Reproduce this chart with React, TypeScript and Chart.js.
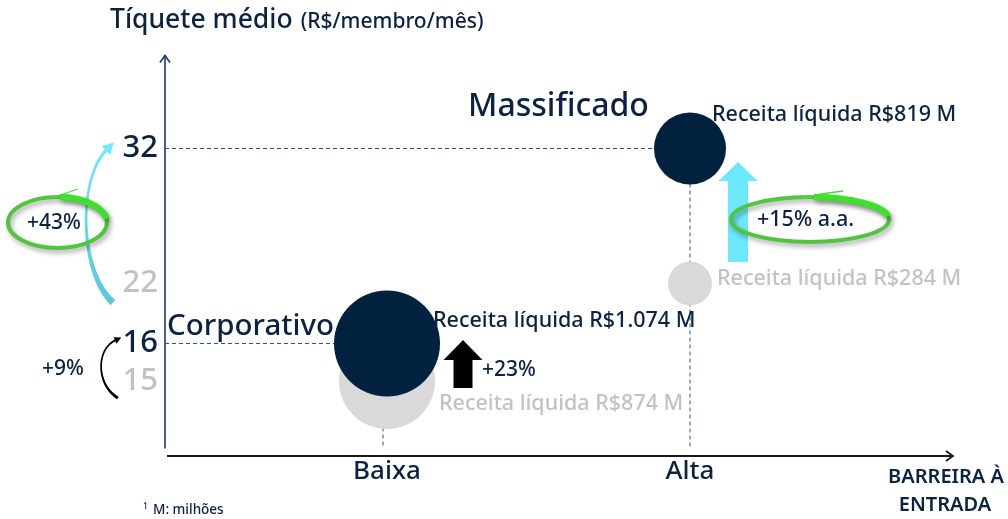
import React, { useEffect, useRef } from 'react';
import { Chart, registerables } from 'chart.js';

Chart.register(...registerables);

// ---------- data ----------
const segments = ['Corporativo', 'Massificado'];
const barrierLevels = ['Baixa', 'Alta'];
const segmentBarrier = ['Baixa', 'Alta'];
const ticketBefore = [15, 22];
const ticketNow = [16, 32];
const revenueBefore = [874, 284];
const revenueNow = [1074, 819];
const revenueGrowth = ['+23%', '+15% a.a.'];
const ticketGrowth = ['+9%', '+43%'];
const bubbleRadiusNow = [53, 36];
const bubbleRadiusBefore = [48, 22];
const yTickValues = [32, 22, 16, 15];
// axis slot layout (hand-drawn, non-linear axis): slots above 32, between ticks, below 15
const yTickGaps = [12, 18, 8, 5, 9];

const NAVY = '#0c2241';
const BUBBLE_NAVY = '#02213f';
const GREY_BUBBLE = '#d9d9d9';
const GREY_TEXT = '#c2c2c2';
const FONT = '"Noto Sans", sans-serif';
const W = '500';

const yLabels: string[] = (() => {
  const total = yTickGaps.reduce((s, g) => s + g, 0) + 1;
  const arr: string[] = new Array(total).fill('');
  let idx = 0;
  yTickValues.forEach((v, i) => {
    idx += yTickGaps[i];
    arr[idx] = String(v);
  });
  return arr;
})();

const fmtThousands = (v: number) => String(v).replace(/\B(?=(\d{3})+(?!\d))/g, '.');
const revenueLabel = (v: number) => `Receita líquida R$${fmtThousands(v)} M`;
const xValueOf = (i: number) => barrierLevels.indexOf(segmentBarrier[i]) + 1;

function txt(ctx: CanvasRenderingContext2D, s: string, x: number, y: number, size: number, color: string, align: CanvasTextAlign = 'left', weight = W) {
  ctx.font = `${weight} ${size}px ${FONT}`;
  ctx.fillStyle = color;
  ctx.textAlign = align;
  ctx.textBaseline = 'alphabetic';
  ctx.fillText(s, x, y);
}

type P = [number, number];
function taperedArrow(ctx: CanvasRenderingContext2D, p0: P, c1: P, c2: P, p1: P, w0: number, wm: number, w1: number, headLen: number, headW: number, fill: string | CanvasGradient) {
  const bez = (t: number) => {
    const m = 1 - t;
    return [
      m * m * m * p0[0] + 3 * m * m * t * c1[0] + 3 * m * t * t * c2[0] + t * t * t * p1[0],
      m * m * m * p0[1] + 3 * m * m * t * c1[1] + 3 * m * t * t * c2[1] + t * t * t * p1[1],
    ];
  };
  const der = (t: number) => {
    const m = 1 - t;
    return [
      3 * m * m * (c1[0] - p0[0]) + 6 * m * t * (c2[0] - c1[0]) + 3 * t * t * (p1[0] - c2[0]),
      3 * m * m * (c1[1] - p0[1]) + 6 * m * t * (c2[1] - c1[1]) + 3 * t * t * (p1[1] - c2[1]),
    ];
  };
  const N = 48;
  const L: number[][] = [];
  const R: number[][] = [];
  for (let i = 0; i <= N; i++) {
    const t = i / N;
    const p = bez(t);
    const d = der(t);
    const len = Math.hypot(d[0], d[1]) || 1;
    const nx = -d[1] / len;
    const ny = d[0] / len;
    const w = (1 - t) * (1 - t) * w0 + 2 * t * (1 - t) * wm + t * t * w1;
    L.push([p[0] + nx * w / 2, p[1] + ny * w / 2]);
    R.push([p[0] - nx * w / 2, p[1] - ny * w / 2]);
  }
  ctx.fillStyle = fill;
  ctx.beginPath();
  ctx.moveTo(L[0][0], L[0][1]);
  L.forEach((q) => ctx.lineTo(q[0], q[1]));
  for (let i = R.length - 1; i >= 0; i--) ctx.lineTo(R[i][0], R[i][1]);
  ctx.closePath();
  ctx.fill();
  const d = der(1);
  const len = Math.hypot(d[0], d[1]) || 1;
  const ux = d[0] / len;
  const uy = d[1] / len;
  ctx.beginPath();
  ctx.moveTo(p1[0] + ux * headLen, p1[1] + uy * headLen);
  ctx.lineTo(p1[0] - uy * headW / 2, p1[1] + ux * headW / 2);
  ctx.lineTo(p1[0] + uy * headW / 2, p1[1] - ux * headW / 2);
  ctx.closePath();
  ctx.fill();
}

function blockArrow(ctx: CanvasRenderingContext2D, cx: number, tipY: number, headBaseY: number, bottomY: number, headW: number, shaftW: number, color: string) {
  ctx.fillStyle = color;
  ctx.beginPath();
  ctx.moveTo(cx, tipY);
  ctx.lineTo(cx + headW / 2, headBaseY);
  ctx.lineTo(cx + shaftW / 2, headBaseY);
  ctx.lineTo(cx + shaftW / 2, bottomY);
  ctx.lineTo(cx - shaftW / 2, bottomY);
  ctx.lineTo(cx - shaftW / 2, headBaseY);
  ctx.lineTo(cx - headW / 2, headBaseY);
  ctx.closePath();
  ctx.fill();
}

function scribbleEllipse(ctx: CanvasRenderingContext2D, cx: number, cy: number, rx: number, ry: number, tailX: number, tailY: number) {
  ctx.save();
  ctx.shadowColor = 'rgba(0,0,0,0.35)';
  ctx.shadowBlur = 5;
  ctx.shadowOffsetX = 2;
  ctx.shadowOffsetY = 3;
  ctx.strokeStyle = '#52c43e';
  ctx.lineWidth = 4;
  ctx.beginPath();
  ctx.ellipse(cx, cy, rx, ry, 0, 0, Math.PI * 2);
  ctx.stroke();
  ctx.strokeStyle = '#3fe02c';
  ctx.lineWidth = 6.5;
  ctx.beginPath();
  ctx.ellipse(cx, cy, rx, ry, 0, -Math.PI / 2 + 0.05, -0.15);
  ctx.stroke();
  ctx.restore();
  ctx.save();
  ctx.strokeStyle = '#4fd83a';
  ctx.lineWidth = 1.3;
  ctx.beginPath();
  ctx.moveTo(cx - rx * 0.1, cy - ry + 1);
  ctx.quadraticCurveTo(cx + (tailX - cx) * 0.4, cy - ry - 4, tailX, tailY);
  ctx.stroke();
  ctx.restore();
}

const overlay = {
  id: 'overlay',
  beforeDatasetsDraw(chart: any) {
    const { ctx, chartArea: a, scales } = chart;
    const x = scales.x;
    const y = scales.y;
    const py = (v: number) => y.getPixelForValue(yLabels.indexOf(String(v)));
    ctx.save();
    // y axis with arrow
    ctx.strokeStyle = '#1d3873';
    ctx.lineWidth = 1.6;
    ctx.beginPath();
    ctx.moveTo(a.left, a.bottom);
    ctx.lineTo(a.left, a.top - 3);
    ctx.stroke();
    ctx.beginPath();
    ctx.moveTo(a.left - 5, a.top + 4);
    ctx.lineTo(a.left, a.top - 3);
    ctx.lineTo(a.left + 5, a.top + 4);
    ctx.stroke();
    // x axis with arrow
    const xAxisY = a.bottom + 7.5;
    ctx.strokeStyle = '#1a1a1a';
    ctx.lineWidth = 1.8;
    ctx.beginPath();
    ctx.moveTo(a.left + 2, xAxisY);
    ctx.lineTo(a.right, xAxisY);
    ctx.stroke();
    ctx.beginPath();
    ctx.moveTo(a.right - 7, xAxisY - 5);
    ctx.lineTo(a.right, xAxisY);
    ctx.lineTo(a.right - 7, xAxisY + 5);
    ctx.stroke();
    // dashed guides
    ctx.strokeStyle = '#35507f';
    ctx.lineWidth = 1;
    ctx.setLineDash([4, 3]);
    segments.forEach((_, i) => {
      const px = x.getPixelForValue(xValueOf(i));
      const yn = py(ticketNow[i]);
      ctx.beginPath();
      ctx.moveTo(a.left, yn);
      ctx.lineTo(px, yn);
      ctx.stroke();
      ctx.beginPath();
      ctx.moveTo(px - (i === 0 ? 4 : 0), yn);
      ctx.lineTo(px - (i === 0 ? 4 : 0), a.bottom);
      ctx.stroke();
    });
    ctx.restore();
  },
  afterDatasetsDraw(chart: any) {
    const { ctx, chartArea: a, scales } = chart;
    const x = scales.x;
    const y = scales.y;
    const py = (v: number) => y.getPixelForValue(yLabels.indexOf(String(v)));
    const xB = x.getPixelForValue(xValueOf(0));
    const xA = x.getPixelForValue(xValueOf(1));
    const yN0 = py(ticketNow[0]);
    const yB0 = py(ticketBefore[0]);
    const yN1 = py(ticketNow[1]);
    const yB1 = py(ticketBefore[1]);
    ctx.save();

    // title
    txt(ctx, 'Tíquete médio', 110, 28, 26.5, NAVY);
    ctx.font = `${W} 26.5px ${FONT}`;
    const tw = ctx.measureText('Tíquete médio').width;
    txt(ctx, '(R$/membro/mês)', 110 + tw + 8, 28, 21, NAVY);

    // segment names
    txt(ctx, segments[1], xA - 222, yN1 - 32.5, 32, NAVY);
    txt(ctx, segments[0], a.left + 2, yN0 - 8.5, 29.5, NAVY);

    // revenue labels
    txt(ctx, revenueLabel(revenueNow[1]), xA + 22, yN1 - 27.5, 21.5, NAVY);
    txt(ctx, revenueLabel(revenueBefore[1]), xA + 27, yB1 + 1.5, 21.5, GREY_TEXT);
    txt(ctx, revenueLabel(revenueNow[0]), xB + 46, yN0 - 16.5, 21.5, NAVY);
    txt(ctx, revenueLabel(revenueBefore[0]), xB + 52, yB0 + 29, 21.5, GREY_TEXT);

    // revenue growth: Corporativo (black block arrow)
    blockArrow(ctx, xB + 76, yN0 - 3.5, yN0 + 16.5, yN0 + 44.5, 39, 19, '#000000');
    txt(ctx, revenueGrowth[0], xB + 95, yN0 + 32.5, 21, NAVY);

    // revenue growth: Massificado (cyan block arrow + ellipse)
    blockArrow(ctx, xA + 48, yN1 + 13.5, yN1 + 32.5, yB1 - 21.5, 39, 20, '#6ce8fc');
    scribbleEllipse(ctx, 810, 219.5, 79, 22.5, 843, 191);
    txt(ctx, revenueGrowth[1], 757, 226, 21.5, NAVY);

    // ticket growth: Massificado (cyan curved arrow + ellipse)
    const g = ctx.createLinearGradient(0, yN1, 0, yB1 + 20);
    g.addColorStop(0, '#6fe9fd');
    g.addColorStop(1, '#5cc6d9');
    taperedArrow(ctx, [113, yB1 + 19], [80, yB1 - 10], [77, yN1 + 32], [106, yN1 + 2], 7, 0.5, 3.5, 11, 12, g);
    scribbleEllipse(ctx, 57.5, 222.5, 49.5, 25.5, 78, 189);
    txt(ctx, ticketGrowth[1], 27, 229, 21, NAVY);

    // ticket growth: Corporativo (black curved arrow)
    taperedArrow(ctx, [118, yB0 + 17], [96, yB0 + 4], [96, yN0 + 6], [115, yN0 - 3], 3, 1, 2, 7, 7, '#000000');
    txt(ctx, ticketGrowth[0], 42, 375, 21, NAVY);

    // x axis title
    txt(ctx, 'BARREIRA À', 946, 483, 20, NAVY, 'center', '600');
    txt(ctx, 'ENTRADA', 945, 510.5, 20, NAVY, 'center', '600');

    // footnote
    txt(ctx, '1', 143, 509, 8.5, NAVY);
    txt(ctx, 'M: milhões', 153, 514, 13.5, NAVY);
    ctx.restore();
  },
};

export default function App() {
  const ref = useRef<HTMLCanvasElement>(null);
  useEffect(() => {
    const canvas = ref.current!;
    const greyTicks = ticketBefore.map(String);
    const chart = new Chart(canvas, {
      type: 'bubble',
      data: {
        datasets: [
          {
            label: 'Atual',
            data: segments.map((_, i) => ({ x: xValueOf(i), y: String(ticketNow[i]) as any, r: bubbleRadiusNow[i] })),
            backgroundColor: BUBBLE_NAVY,
            borderWidth: 0,
            order: 0,
          },
          {
            label: 'Anterior',
            data: segments.map((_, i) => ({ x: xValueOf(i), y: String(ticketBefore[i]) as any, r: bubbleRadiusBefore[i] })),
            backgroundColor: GREY_BUBBLE,
            borderWidth: 0,
            order: 1,
          },
        ],
      },
      options: {
        responsive: false,
        animation: false,
        events: [],
        layout: { padding: { top: 58.5, right: 55, left: 0, bottom: 0 } },
        plugins: { legend: { display: false }, tooltip: { enabled: false } },
        scales: {
          x: {
            type: 'linear',
            min: 0.2673,
            max: 2.868,
            grid: { display: false, drawTicks: false },
            border: { display: false },
            afterBuildTicks: (s: any) => {
              s.ticks = barrierLevels.map((_, i) => ({ value: i + 1 }));
            },
            afterFit: (s: any) => {
              s.height = 519 - 448.5;
            },
            ticks: {
              autoSkip: false,
              maxRotation: 0,
              padding: 7,
              color: NAVY,
              font: { family: FONT, size: 26, weight: W },
              callback: (v: any) => barrierLevels[Number(v) - 1] ?? '',
            },
          },
          y: {
            type: 'category',
            labels: yLabels,
            grid: { display: false, drawTicks: false },
            border: { display: false },
            afterFit: (s: any) => {
              s.width = 165;
            },
            ticks: {
              autoSkip: false,
              padding: 7,
              color: (c: any) => (greyTicks.includes(c.tick?.label) ? GREY_TEXT : NAVY),
              font: { family: FONT, size: 31, weight: W },
            },
          },
        },
      } as any,
      plugins: [overlay],
    });
    return () => chart.destroy();
  }, []);
  return (
    <div style={{ position: 'fixed', left: 0, top: 0, width: 1008, height: 519, background: '#ffffff' }}>
      <canvas ref={ref} width={1008} height={519} style={{ display: 'block', width: 1008, height: 519 }} />
    </div>
  );
}
